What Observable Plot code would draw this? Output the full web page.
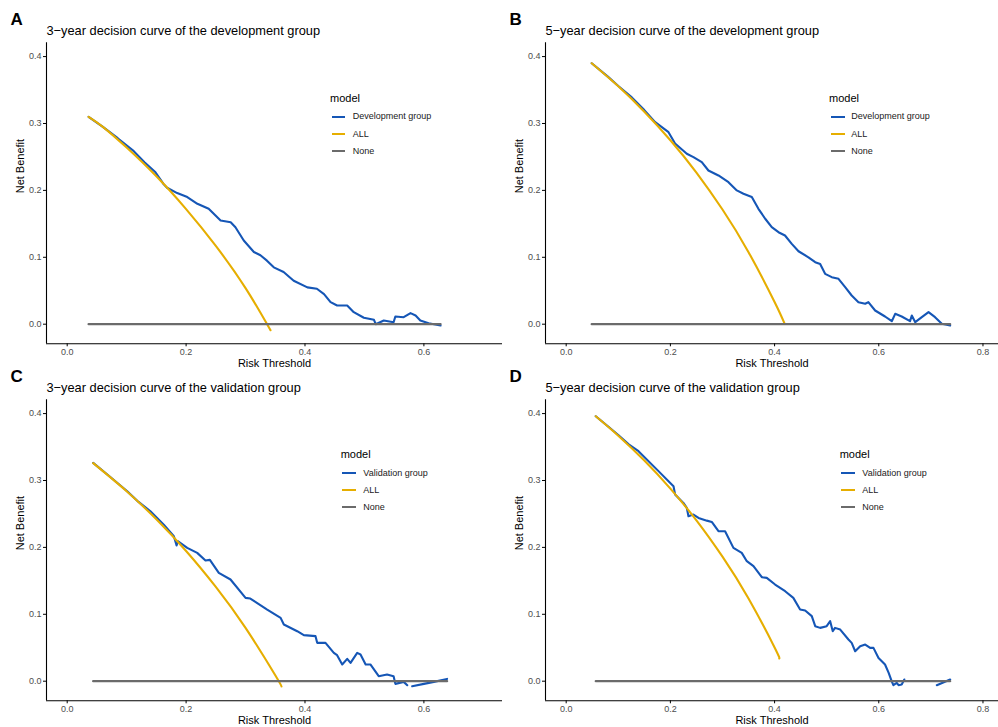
<!DOCTYPE html>
<html><head><meta charset="utf-8">
<script src="https://cdn.jsdelivr.net/npm/d3@7"></script>
<script src="https://cdn.jsdelivr.net/npm/@observablehq/plot@0.6"></script>
<style>
body{margin:0;background:#fff;font-family:"Liberation Sans",Arial,Helvetica,sans-serif;}
#fig{position:relative;width:998px;height:727px;overflow:hidden;background:#fff;}
.panel{position:absolute;}
.lgt{position:absolute;font-size:11px;line-height:13px;color:#000;white-space:nowrap;}
.lgl{position:absolute;font-size:9px;line-height:11px;color:#1a1a1a;white-space:nowrap;}
.lgk{position:absolute;height:2.4px;width:13.3px;}
</style></head><body><div id="fig"></div><script>
// ---- Panel A: 3-year, development group ----
const aModelT  = [0.036,0.06,0.085,0.112,0.13,0.1485,0.1625,0.168,0.185,0.202,0.219,0.238,0.258,0.275,0.283,0.297,0.314,0.325,0.336,0.3475,0.364,0.381,0.404,0.42,0.432,0.443,0.454,0.471,0.482,0.499,0.516,0.519,0.5325,0.549,0.552,0.566,0.5775,0.586,0.594,0.608,0.628];
const aModelNB = [0.310,0.295,0.278,0.2586,0.242,0.227,0.209,0.204,0.196,0.190,0.180,0.1725,0.155,0.1525,0.145,0.125,0.108,0.103,0.095,0.085,0.078,0.065,0.055,0.053,0.045,0.033,0.028,0.028,0.018,0.0096,0.0066,0.0,0.0055,0.003,0.0115,0.0105,0.0165,0.013,0.0055,0.0015,-0.002];
const aAllT  = [0.036,0.06,0.10,0.15,0.20,0.25,0.30,0.342];
const aAllNB = [0.310,0.295,0.264,0.221,0.172,0.117,0.054,-0.009];
const aNoneT = [0.036,0.628];
// ---- Panel B: 5-year, development group ----
const bModelT  = [0.049,0.08,0.1,0.126,0.15,0.1708,0.1964,0.209,0.2315,0.2443,0.2603,0.273,0.2923,0.3115,0.3275,0.3403,0.3563,0.369,0.382,0.3946,0.4075,0.420,0.433,0.4459,0.465,0.478,0.4875,0.497,0.5098,0.5227,0.5355,0.548,0.561,0.574,0.580,0.593,0.612,0.625,0.6315,0.644,0.660,0.6634,0.670,0.6826,0.6955,0.708,0.721,0.737];
const bModelNB = [0.390,0.370,0.356,0.339,0.320,0.302,0.287,0.270,0.2547,0.2497,0.2422,0.2297,0.2223,0.2123,0.200,0.195,0.190,0.1725,0.1576,0.145,0.1375,0.1326,0.120,0.109,0.100,0.0927,0.090,0.0753,0.0703,0.0678,0.0553,0.0429,0.0329,0.0305,0.033,0.0205,0.0115,0.0045,0.0155,0.0115,0.0045,0.013,0.003,0.0105,0.018,0.0105,0.0006,-0.002];
const bAllT  = [0.049,0.10,0.15,0.20,0.25,0.30,0.35,0.40,0.419];
const bAllNB = [0.390,0.3556,0.3176,0.275,0.2267,0.1714,0.1077,0.0333,0.0012];
const bNoneT = [0.049,0.737];
// ---- Panel C: 3-year, validation group ----
const cModelT  = [0.0437,0.07,0.101,0.120,0.140,0.1625,0.1794,0.184,0.186,0.2019,0.2187,0.2326,0.240,0.255,0.2747,0.300,0.308,0.3364,0.359,0.3644,0.3869,0.398,0.4177,0.4205,0.4345,0.4485,0.454,0.4626,0.471,0.4766,0.4878,0.4934,0.502,0.510,0.524,0.538,0.549,0.552,0.566,0.572,0.576,0.5803,0.600,0.6167,0.639];
const cModelNB = [0.3263,0.307,0.284,0.268,0.254,0.234,0.2167,0.203,0.2093,0.1993,0.1918,0.1804,0.1813,0.1619,0.152,0.1245,0.1236,0.107,0.0946,0.0847,0.0747,0.0688,0.0673,0.0573,0.0573,0.0423,0.0389,0.025,0.0334,0.0274,0.0423,0.040,0.025,0.025,0.0075,0.010,0.0075,-0.004,-0.001,-0.006,NaN,-0.0075,-0.004,-0.001,0.0034];
const cAllT  = [0.0437,0.10,0.15,0.20,0.25,0.30,0.35,0.3605];
const cAllNB = [0.326,0.284,0.242,0.1946,0.1409,0.0796,0.0088,-0.008];
const cNoneT = [0.0437,0.639];
// ---- Panel D: 5-year, validation group ----
const dModelT  = [0.0568,0.08,0.1,0.12,0.1388,0.1772,0.1964,0.206,0.209,0.225,0.2315,0.2347,0.2443,0.254,0.270,0.2795,0.2923,0.305,0.321,0.337,0.3467,0.3595,0.3755,0.385,0.401,0.4203,0.436,0.449,0.4587,0.4714,0.478,0.4875,0.500,0.5067,0.5117,0.516,0.526,0.5418,0.548,0.5547,0.5643,0.574,0.5835,0.5898,0.5995,0.612,0.619,0.6247,0.628,0.6345,0.638,0.644,0.649,0.68,0.7114,0.737];
const dModelNB = [0.396,0.381,0.368,0.354,0.3438,0.314,0.299,0.2915,0.279,0.2665,0.259,0.2466,0.249,0.244,0.240,0.238,0.2242,0.2242,0.1993,0.1918,0.1794,0.1719,0.1555,0.1544,0.1445,0.1345,0.1245,0.1072,0.1056,0.0972,0.0822,0.0797,0.0822,0.0897,0.0747,0.0797,0.0772,0.0623,0.0573,0.0448,0.0523,0.0548,0.0498,0.0498,0.0348,0.025,0.0124,0.0,-0.006,-0.0025,-0.006,-0.005,0.0025,NaN,-0.006,0.0025];
const dAllT  = [0.0568,0.10,0.15,0.20,0.25,0.30,0.35,0.40,0.409];
const dAllNB = [0.396,0.367,0.3298,0.2879,0.2404,0.1861,0.1235,0.0505,0.034];
const dNoneT = [0.0568,0.737];

const xTicks3 = [0, 0.2, 0.4, 0.6];
const xTicks5 = [0, 0.2, 0.4, 0.6, 0.8];
const yTicks = [0, 0.1, 0.2, 0.3, 0.4];
const legendLabels = ["ALL", "None"];

const blue = "#1556B6", gold = "#E6AE00", grey = "#6B6B6B";
const font = '"Liberation Sans", Arial, Helvetica, sans-serif';
const yDomain = [-0.0293, 0.4206];

const panels = [
  {letter:"A", title:"3\u2212year decision curve of the development group", model:"Development group",
   mt:aModelT, mn:aModelNB, at:aAllT, an:aAllNB, nt:aNoneT, ticks:xTicks3, xDomain:[-0.0348,0.7322],
   left:0, top:0, width:502, lg:{tx:330, ty:98, kx:331.7, lx:352.7, rows:[116.7,134,151]}},
  {letter:"B", title:"5\u2212year decision curve of the development group", model:"Development group",
   mt:bModelT, mn:bModelNB, at:bAllT, an:bAllNB, nt:bNoneT, ticks:xTicks5, xDomain:[-0.0397,0.8298],
   left:499, top:0, width:499, lg:{tx:330, ty:98, kx:332.3, lx:352.3, rows:[116.7,134,151]}},
  {letter:"C", title:"3\u2212year decision curve of the validation group", model:"Validation group",
   mt:cModelT, mn:cModelNB, at:cAllT, an:cAllNB, nt:cNoneT, ticks:xTicks3, xDomain:[-0.0348,0.7322],
   left:0, top:357, width:502, lg:{tx:340.7, ty:97.3, kx:342.3, lx:363.3, rows:[116,133,150]}},
  {letter:"D", title:"5\u2212year decision curve of the validation group", model:"Validation group",
   mt:dModelT, mn:dModelNB, at:dAllT, an:dAllNB, nt:dNoneT, ticks:xTicks5, xDomain:[-0.0397,0.8298],
   left:499, top:357, width:499, lg:{tx:340.7, ty:97.3, kx:342.3, lx:363.3, rows:[116,133,150]}}
];

const fig = document.getElementById("fig");

for (const p of panels) {
  const model = p.mt.map((t, i) => ({t, nb: p.mn[i]}));
  const all = p.at.map((t, i) => ({t, nb: p.an[i]}));
  const none = p.nt.map(t => ({t, nb: 0}));
  const svg = Plot.plot({
    width: p.width, height: 372,
    marginLeft: 46, marginRight: 0, marginTop: 42.3, marginBottom: 28.7,
    x: {domain: p.xDomain},
    y: {domain: yDomain},
    style: {background: "transparent", overflow: "visible", fontFamily: font, fontSize: "9px"},
    marks: [
      Plot.line(model, {x: "t", y: "nb", stroke: blue, strokeWidth: 2.1}),
      Plot.line(all, {x: "t", y: "nb", stroke: gold, strokeWidth: 2.1, curve: "natural"}),
      Plot.line(none, {x: "t", y: "nb", stroke: grey, strokeWidth: 2.3}),
      Plot.ruleX([p.xDomain[0]], {stroke: "black", strokeWidth: 1.1}),
      Plot.ruleY([yDomain[0]], {stroke: "black", strokeWidth: 1.1}),
      Plot.axisX({ticks: p.ticks, tickFormat: d3.format(".1f"), tickSize: 3, tickPadding: 2,
                  fill: "#4d4d4d", stroke: "black", label: null, fontSize: 9}),
      Plot.axisY({ticks: yTicks, tickFormat: d3.format(".1f"), tickSize: 3, tickPadding: 2,
                  fill: "#4d4d4d", stroke: "black", label: null, fontSize: 9}),
      Plot.text(["Risk Threshold"], {text: d => d, frameAnchor: "bottom", dy: 20, lineAnchor: "middle", fontSize: 11, fill: "black"}),
      Plot.text(["Net Benefit"], {text: d => d, frameAnchor: "left", dx: -26, rotate: -90, lineAnchor: "middle", fontSize: 11, fill: "black"}),
      Plot.text([p.title], {text: d => d, frameAnchor: "top-left", textAnchor: "start", dy: -12.3, lineAnchor: "middle", fontSize: 12.8, fill: "black"}),
      Plot.text([p.letter], {text: d => d, frameAnchor: "top-left", textAnchor: "start", dx: -36, dy: -23.3, lineAnchor: "middle", fontSize: 17, fontWeight: "bold", fill: "black"})
    ]
  });
  const wrap = document.createElement("div");
  wrap.className = "panel";
  wrap.style.left = p.left + "px";
  wrap.style.top = p.top + "px";
  wrap.appendChild(svg);
  fig.appendChild(wrap);

  // legend
  const lg = p.lg;
  const t = document.createElement("div");
  t.className = "lgt"; t.textContent = "model";
  t.style.left = (p.left + lg.tx) + "px"; t.style.top = (p.top + lg.ty - 6.5) + "px";
  fig.appendChild(t);
  const labels = [p.model, ...legendLabels];
  const colors = [blue, gold, grey];
  labels.forEach((lab, i) => {
    const k = document.createElement("div");
    k.className = "lgk"; k.style.background = colors[i];
    k.style.left = (p.left + lg.kx) + "px"; k.style.top = (p.top + lg.rows[i] - 1.2) + "px";
    fig.appendChild(k);
    const l = document.createElement("div");
    l.className = "lgl"; l.textContent = lab;
    l.style.left = (p.left + lg.lx) + "px"; l.style.top = (p.top + lg.rows[i] - 5.5) + "px";
    fig.appendChild(l);
  });
}
</script></body></html>
